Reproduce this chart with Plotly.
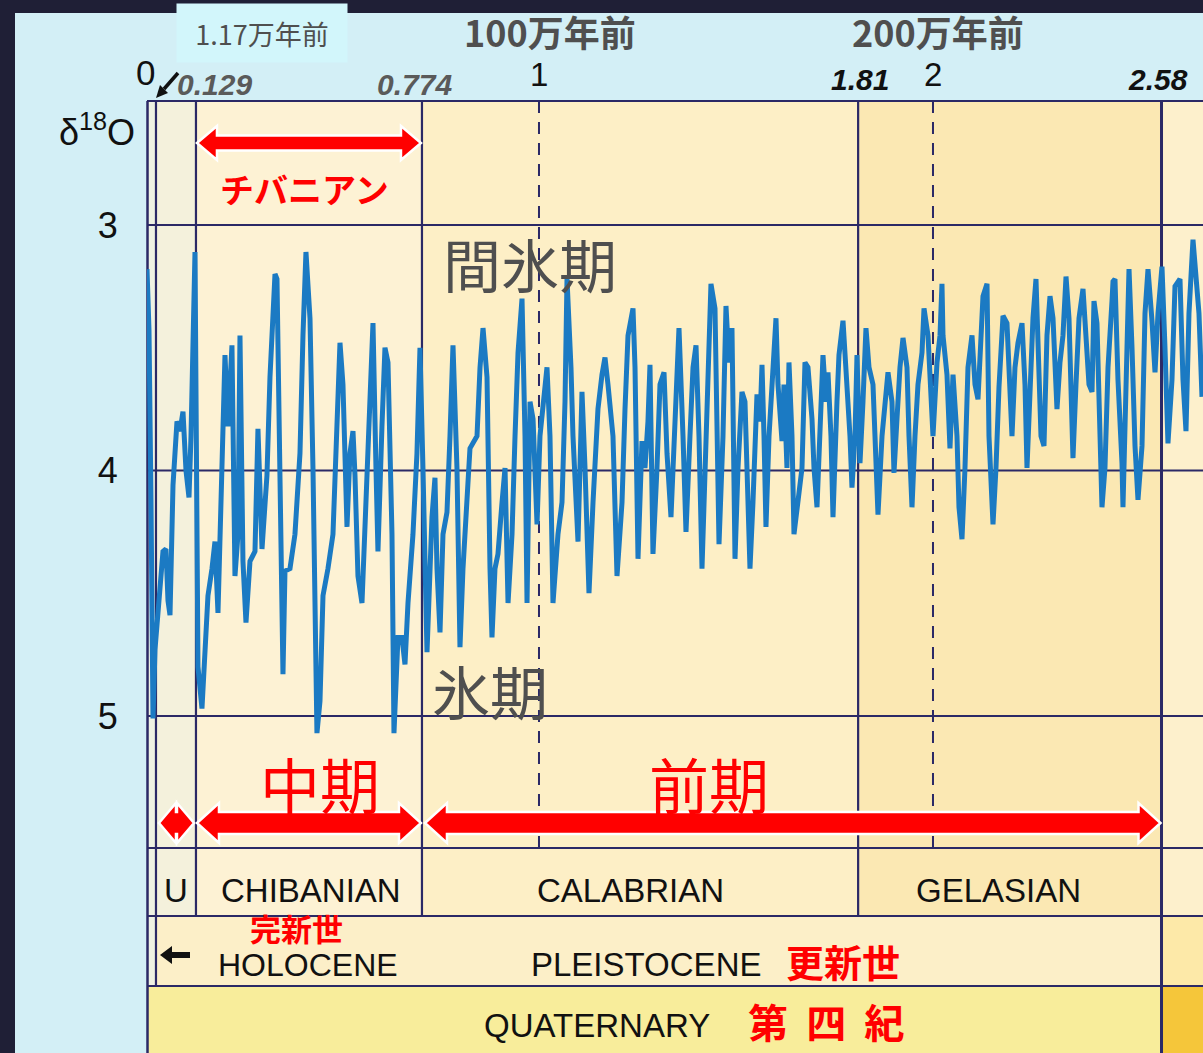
import numpy as np
import plotly.graph_objects as go

# ---------------- data ----------------
age_ma = [
    0.0000, 0.0026, 0.0052, 0.0078, 0.0104, 0.0176, 0.0264, 0.0322, 0.0410, 0.0469,
    0.0528, 0.0616, 0.0733, 0.0821, 0.0909, 0.0997, 0.1085, 0.1144, 0.1261,
    0.1347, 0.1461, 0.1547, 0.1632, 0.1747, 0.1832, 0.1918, 0.2032, 0.2118, 0.2203,
    0.2317, 0.2403, 0.2489, 0.2546, 0.2631, 0.2717, 0.2831, 0.2974, 0.3059, 0.3174,
    0.3316, 0.3402, 0.3545, 0.3602, 0.3687, 0.3773, 0.3830, 0.3973, 0.4115, 0.4258,
    0.4344, 0.4429, 0.4544, 0.4629, 0.4743, 0.4829, 0.4915, 0.5057, 0.5200, 0.5314,
    0.5400, 0.5485, 0.5600, 0.5685, 0.5771, 0.5828, 0.5913, 0.6028, 0.6113, 0.6199,
    0.6313, 0.6342, 0.6427, 0.6484, 0.6598, 0.6684, 0.6770, 0.6884, 0.6941, 0.7055,
    0.7169, 0.7255, 0.7341, 0.7483, 0.7597, 0.7683,
    0.7759, 0.7837, 0.7933, 0.7991, 0.8030, 0.8088, 0.8146, 0.8223, 0.8281, 0.8339,
    0.8416, 0.8474, 0.8532, 0.8609, 0.8667, 0.8803, 0.8861, 0.8919, 0.8996, 0.9054,
    0.9092, 0.9150, 0.9208, 0.9286, 0.9344, 0.9402, 0.9479, 0.9537, 0.9595, 0.9672,
    0.9730, 0.9769, 0.9827, 0.9885, 0.9962, 1.0025,
    1.0102, 1.0203, 1.0279, 1.0355, 1.0482, 1.0584, 1.0660, 1.0711, 1.0812, 1.0863,
    1.0990, 1.1091, 1.1168, 1.1269, 1.1371, 1.1497, 1.1599, 1.1675, 1.1751, 1.1878,
    1.1980, 1.2107, 1.2183, 1.2259, 1.2386, 1.2437, 1.2513, 1.2614, 1.2690, 1.2766,
    1.2817, 1.2893, 1.2995, 1.3071, 1.3173, 1.3249, 1.3350, 1.3401, 1.3503, 1.3553,
    1.3655, 1.3731, 1.3832, 1.3909, 1.3985, 1.4061, 1.4137, 1.4213, 1.4289, 1.4365,
    1.4467, 1.4518, 1.4569, 1.4670, 1.4746, 1.4822, 1.4898, 1.4975, 1.5051, 1.5152,
    1.5228,
    1.5279, 1.5355, 1.5431, 1.5533, 1.5609, 1.5660, 1.5711, 1.5761, 1.5838, 1.5914,
    1.6015, 1.6066, 1.6168, 1.6218, 1.6294, 1.6345, 1.6421, 1.6472, 1.6574, 1.6675,
    1.6751, 1.6827, 1.6929, 1.6980, 1.7056, 1.7132, 1.7208, 1.7284, 1.7335, 1.7411,
    1.7462, 1.7563, 1.7614, 1.7716, 1.7817, 1.7893, 1.7944, 1.8020, 1.8071, 1.8147,
    1.8223, 1.8299, 1.8376, 1.8477, 1.8528, 1.8604, 1.8706, 1.8782, 1.8858, 1.8959,
    1.9010, 1.9086, 1.9162, 1.9239, 1.9340, 1.9391, 1.9467, 1.9543, 1.9619, 1.9721,
    1.9772, 1.9873, 1.9949, 2.0000, 2.0102, 2.0178, 2.0228,
    2.0254, 2.0355, 2.0431, 2.0508, 2.0609, 2.0660, 2.0736, 2.0812, 2.0888, 2.0990,
    2.1066, 2.1142, 2.1193, 2.1269, 2.1371, 2.1421, 2.1523, 2.1599, 2.1675, 2.1777,
    2.1878, 2.1954, 2.2005, 2.2081, 2.2157, 2.2259, 2.2335, 2.2386, 2.2462, 2.2538,
    2.2614, 2.2665, 2.2741, 2.2817, 2.2893, 2.2970, 2.3046, 2.3147, 2.3223, 2.3299,
    2.3376, 2.3452, 2.3553, 2.3629, 2.3706, 2.3807, 2.3883, 2.3959, 2.4036, 2.4086,
    2.4162, 2.4213, 2.4289, 2.4365, 2.4442, 2.4543, 2.4569, 2.4619, 2.4695, 2.4797,
    2.4822, 2.4924, 2.4975, 2.5051, 2.5127, 2.5203, 2.5305, 2.5381, 2.5457, 2.5558,
    2.5635, 2.5711, 2.5812, 2.5888, 2.5964, 2.6066, 2.6142, 2.6269, 2.6345, 2.6421,
    2.6497, 2.6599, 2.6675, 2.6751, 2.6827,
]
d18o = [
    3.18, 3.43, 4.12, 5.01, 4.73, 4.58, 4.41, 4.33, 4.32, 4.53,
    4.59, 4.06, 3.80, 3.84, 3.76, 4.00, 4.11, 3.86, 3.11,
    4.80, 4.97, 4.76, 4.51, 4.40, 4.29, 4.58, 3.86, 3.53, 3.82,
    3.49, 4.43, 4.26, 3.45, 4.37, 4.62, 4.37, 4.33, 3.83, 4.32,
    4.02, 3.62, 3.20, 3.22, 4.13, 4.83, 4.41, 4.40, 4.26, 3.93,
    3.45, 3.11, 3.38, 3.99, 5.07, 4.94, 4.51, 4.40, 4.26, 3.86,
    3.48, 3.65, 4.23, 3.93, 3.84, 4.02, 4.43, 4.54, 4.26, 3.93,
    3.61, 3.40, 3.99, 4.33, 3.82, 3.50, 3.56, 4.26, 5.07, 4.68,
    4.68, 4.79, 4.54, 4.26, 3.93, 3.50,
    3.99, 4.74, 4.19, 4.03, 4.40, 4.66, 4.26, 4.17, 3.86, 3.49,
    3.99, 4.72, 4.40, 4.06, 3.91, 3.86, 3.58, 3.42, 3.62, 4.40,
    4.68, 4.40, 4.34, 4.13, 3.99, 4.54, 4.26, 3.86, 3.52, 3.30,
    3.86, 4.54, 3.72, 3.79, 4.22, 3.86,
    3.72, 3.58, 3.86, 4.54, 4.26, 4.13, 3.72, 3.22, 3.58, 3.86,
    4.29, 3.68, 3.99, 4.50, 4.13, 3.75, 3.61, 3.54, 3.65, 3.86,
    4.43, 4.13, 3.75, 3.45, 3.34, 3.58, 4.36, 3.88, 3.99, 3.80,
    3.57, 4.34, 3.99, 3.65, 3.60, 3.93, 4.19, 3.99, 3.58, 3.42,
    3.86, 4.25, 3.86, 3.58, 3.49, 3.86, 4.40, 3.99, 3.58, 3.24,
    3.34, 3.72, 4.30, 3.86, 3.33, 3.56, 3.42, 4.36, 3.99, 3.68,
    3.72,
    3.99, 4.40, 4.13, 3.69, 3.80, 3.57, 3.86, 4.23, 3.86, 3.66,
    3.38, 3.65, 3.88, 3.65, 3.99, 3.56, 3.86, 4.26, 4.10, 3.99,
    3.56, 3.58, 3.79, 3.99, 4.15, 3.79, 3.53, 3.72, 3.60, 3.86,
    4.19, 3.72, 3.53, 3.39, 3.65, 3.86, 4.07, 3.86, 3.53, 3.97,
    3.72, 3.42, 3.58, 3.65, 3.86, 4.18, 3.86, 3.72, 3.60, 3.72,
    4.01, 3.79, 3.58, 3.46, 3.58, 3.86, 4.15, 3.86, 3.65, 3.52,
    3.34, 3.45, 3.69, 3.86, 3.56, 3.45, 3.24,
    3.45, 3.61, 3.91, 3.61, 3.86, 4.15, 4.28, 3.99, 3.58, 3.45,
    3.65, 3.71, 3.52, 3.29, 3.24, 3.86, 4.22, 3.99, 3.66, 3.37,
    3.40, 3.65, 3.86, 3.58, 3.48, 3.40, 3.65, 3.99, 3.65, 3.38,
    3.22, 3.45, 3.86, 3.90, 3.45, 3.29, 3.38, 3.75, 3.56, 3.45,
    3.21, 3.38, 3.95, 3.65, 3.38, 3.26, 3.45, 3.65, 3.68, 3.31,
    3.40, 3.72, 4.15, 3.99, 3.58, 3.31, 3.23, 3.22, 3.63, 3.97,
    4.15, 3.50, 3.18, 3.50, 3.90, 4.12, 3.90, 3.36, 3.18, 3.39,
    3.60, 3.36, 3.17, 3.50, 3.89, 3.63, 3.25, 3.22, 3.63, 3.84,
    3.36, 3.06, 3.22, 3.36, 3.70,
]

stage_names = ["U", "CHIBANIAN", "CALABRIAN", "GELASIAN"]
stage_bounds = [0.0117, 0.129, 0.774, 1.81, 2.58]
holocene_base = 0.0117
top_tick_ages = [0, 0.129, 0.774, 1, 1.81, 2, 2.58]
top_tick_text = ["0", "0.129", "0.774", "1", "1.81", "2", "2.58"]
y_ticks = [3, 4, 5]

# ---------------- schematic (stretched) time axis of the figure ----------------
KNOT_AGE = [0.0, 0.0117, 0.129, 0.774, 1.0, 3.0]
KNOT_POS = [0.0051, 0.0279, 0.1294, 0.7030, 1.0, 3.0]


def to_axis(a):
    return np.interp(a, KNOT_AGE, KNOT_POS)


X_RANGE = [0.0051, 2.6853]
Y_RANGE = [5.538, 2.495]
W, H = 1203, 1053
ML, MT = 147, 101
PW, PH = W - ML, H - MT


def PX(px):
    return (px - ML) / PW


def PY(py):
    return (H - py) / PH


NAVY = "#2b2966"
RED = "#ff0000"
GRAY = "#4f4f4f"
LAT = "Liberation Sans, Arial, sans-serif"
CJK = "Noto Sans CJK JP, sans-serif"

fig = go.Figure()
fig.add_trace(go.Scatter(
    x=to_axis(np.array(age_ma)), y=d18o, mode="lines",
    line=dict(color="#1b7ac3", width=5), hoverinfo="skip", showlegend=False,
))

shapes = []
# outer cyan panel
shapes.append(dict(type="rect", xref="paper", yref="paper", x0=PX(15), x1=1.02,
                   y0=-0.02, y1=PY(13), fillcolor="#d3eff6", line_width=0, layer="below"))

A0, A1, A2, A3, A4, A5 = 0.0, stage_bounds[0], stage_bounds[1], stage_bounds[2], stage_bounds[3], stage_bounds[4]
AEND = 2.75


def rect_age(a0, a1, py0, py1, color):
    return dict(type="rect", xref="x", yref="paper", x0=float(to_axis(a0)), x1=float(to_axis(a1)),
                y0=PY(py1), y1=PY(py0), fillcolor=color, line_width=0, layer="below")


# columns of the d18O panel + stage row
for a0, a1, c in [(A0, A1, "#eff2e3"), (A1, A2, "#f4f1dc"), (A2, A3, "#fdf2d4"),
                  (A3, A4, "#fdefc6"), (A4, A5, "#fbe8b3"), (A5, AEND, "#fdf0cc")]:
    shapes.append(rect_age(a0, a1, 101, 916, c))
# epoch row
for a0, a1, c in [(A0, A1, "#eff2e3"), (A1, A5, "#fcefc8"), (A5, AEND, "#fde9a8")]:
    shapes.append(rect_age(a0, a1, 916, 986, c))
# period row
for a0, a1, c in [(A0, A5, "#f8ed9b"), (A5, AEND, "#f5c63a")]:
    shapes.append(rect_age(a0, a1, 986, 1060, c))

# horizontal grid at d18O values
for v in y_ticks:
    shapes.append(dict(type="line", xref="paper", yref="y", x0=0, x1=1, y0=v, y1=v,
                       line=dict(color=NAVY, width=2), layer="below"))
# horizontal frame lines
for py in [101, 848, 916, 986]:
    shapes.append(dict(type="line", xref="paper", yref="paper", x0=0, x1=1, y0=PY(py), y1=PY(py),
                       line=dict(color=NAVY, width=2.2), layer="below"))
# left border
shapes.append(dict(type="line", xref="paper", yref="paper", x0=PX(147.5), x1=PX(147.5),
                   y0=-0.01, y1=PY(101), line=dict(color=NAVY, width=2.5), layer="below"))


def vline(a, py_bottom, width=2.2, dash=None):
    ln = dict(color=NAVY, width=width)
    if dash:
        ln["dash"] = dash
    return dict(type="line", xref="x", yref="paper", x0=float(to_axis(a)), x1=float(to_axis(a)),
                y0=PY(py_bottom), y1=PY(101), line=ln, layer="below")


shapes.append(vline(holocene_base, 986))
for a in stage_bounds[1:4]:
    shapes.append(vline(a, 916))
shapes.append(vline(stage_bounds[4], 1060, width=3))
for a in [1, 2]:
    shapes.append(vline(a, 848, width=2, dash="12px,9px"))


def arrow_path(a0, a1, yc_px, body, head, hlen, in0=0, in1=0):
    x0 = float(to_axis(a0)) + in0 / 394.0
    x1 = float(to_axis(a1)) - in1 / 394.0
    h = hlen / 394.0
    yc = PY(yc_px)
    b = body / PH
    hh = head / PH
    pts = [(x0, yc), (x0 + h, yc + hh), (x0 + h, yc + b), (x1 - h, yc + b), (x1 - h, yc + hh),
           (x1, yc), (x1 - h, yc - hh), (x1 - h, yc - b), (x0 + h, yc - b), (x0 + h, yc - hh)]
    return "M " + " L ".join(f"{x:.5f},{y:.5f}" for x, y in pts) + " Z"


def arrow_shape(path):
    return dict(type="path", xref="x", yref="paper", path=path, fillcolor=RED,
                line=dict(color="white", width=2.5), layer="above")


shapes.append(arrow_shape(arrow_path(A2, A3, 143, 7.5, 17, 20, 1, 1)))
shapes.append(arrow_shape(arrow_path(A1, A2, 823, 11, 20, 17, 3, 2)))
shapes.append(arrow_shape(arrow_path(A2, A3, 823, 11, 20, 22, 1, 1)))
shapes.append(arrow_shape(arrow_path(A3, A5, 823, 11, 20, 22, 3, 1)))


def ppath(points):
    return "M " + " L ".join(f"{PX(x):.5f},{PY(y):.5f}" for x, y in points) + " Z"


# small black arrows (decorations)
shapes.append(dict(type="path", xref="paper", yref="paper",
                   path=ppath([(160, 955), (172, 946), (172, 952), (190, 952), (190, 958), (172, 958), (172, 964)]),
                   fillcolor="#111111", line_width=0, layer="above"))
shapes.append(dict(type="line", xref="paper", yref="paper", x0=PX(178), y0=PY(73), x1=PX(164), y1=PY(89),
                   line=dict(color="#111111", width=3.5), layer="above"))
shapes.append(dict(type="path", xref="paper", yref="paper",
                   path=ppath([(156, 98), (168, 93), (160, 85)]),
                   fillcolor="#111111", line_width=0, layer="above"))

ann = []


def txt(x, y, text, size, color="#111111", family=LAT, xref="paper", xshift=0, **kw):
    d = dict(x=x, y=y, xref=xref, yref="paper", text=text, showarrow=False,
             font=dict(size=size, color=color, family=family), xanchor="center", yanchor="middle",
             xshift=xshift)
    d.update(kw)
    ann.append(d)


# d18O label
txt(PX(97), PY(130), "δ<sup>18</sup>O", 36)

# top ticks
tick_style = {
    "0": (35, "#111111", False, 72, -2),
    "0.129": (30, "#5a5a5a", True, 84, 19),
    "0.774": (30, "#5a5a5a", True, 84, -7),
    "1": (33, "#111111", False, 74, 0),
    "1.81": (30, "#111111", True, 79, 2),
    "2": (33, "#111111", False, 74, 0),
    "2.58": (30, "#111111", True, 79, -4),
}
for a, t in zip(top_tick_ages, top_tick_text):
    size, col, bi, ypx, xs = tick_style[t]
    label = f"<b><i>{t}</i></b>" if bi else t
    txt(float(to_axis(a)), PY(ypx), label, size, col, xref="x", xshift=xs)

# "1.17万年前" box
txt(PX(262), PY(33), "1.17万年前", 27, GRAY, CJK, bgcolor="#d2f6fb", width=168, height=56, borderpad=1)
txt(PX(550), PY(31), "<b>100万年前</b>", 36, GRAY, CJK)
txt(PX(938), PY(31), "<b>200万年前</b>", 36, GRAY, CJK)

txt(PX(304), PY(188), "<b>チバニアン</b>", 34, RED, CJK)
txt(PX(530), PY(263), "間氷期", 58, GRAY, CJK)
txt(PX(490), PY(690), "氷期", 58, GRAY, CJK)
txt(PX(320), PY(782), "中期", 60, RED, CJK)
txt(PX(709), PY(782), "前期", 60, RED, CJK)

# stage row
bounds_full = [holocene_base] + stage_bounds[1:]
shifts = [0, 2, -10, -11]
for i, name in enumerate(stage_names):
    mid = (float(to_axis(bounds_full[i])) + float(to_axis(bounds_full[i + 1]))) / 2
    txt(mid, PY(890), name, 33, xref="x", xshift=shifts[i])

txt(PX(296), PY(927), "<b>完新世</b>", 31, RED, CJK)
txt(PX(308), PY(965), "HOLOCENE", 32)
txt(PX(646), PY(964), "PLEISTOCENE", 33)
txt(PX(843), PY(960), "<b>更新世</b>", 38, RED, CJK)
txt(PX(597), PY(1025), "QUATERNARY", 33)
txt(PX(826), PY(1021), "<b>第\u00a0\u00a0四\u00a0\u00a0紀</b>", 40, RED, CJK)

fig.update_layout(
    width=W, height=H,
    margin=dict(l=ML, r=0, t=MT, b=0, pad=0),
    paper_bgcolor="#1f1f36", plot_bgcolor="rgba(0,0,0,0)",
    font=dict(family=LAT),
    showlegend=False,
    xaxis=dict(range=X_RANGE, visible=False, fixedrange=True),
    yaxis=dict(range=Y_RANGE, domain=[PY(848), 1], tickvals=y_ticks, ticktext=[str(v) for v in y_ticks],
               showgrid=False, zeroline=False, showline=False, ticks="outside", ticklen=21,
               tickcolor="rgba(0,0,0,0)", tickfont=dict(size=36, color="#111111", family=LAT),
               fixedrange=True),
    shapes=shapes,
    annotations=ann,
)

fig.write_html("out.html", config={"displayModeBar": False},
               post_script="document.body.style.margin='0';document.body.style.overflow='hidden';")
